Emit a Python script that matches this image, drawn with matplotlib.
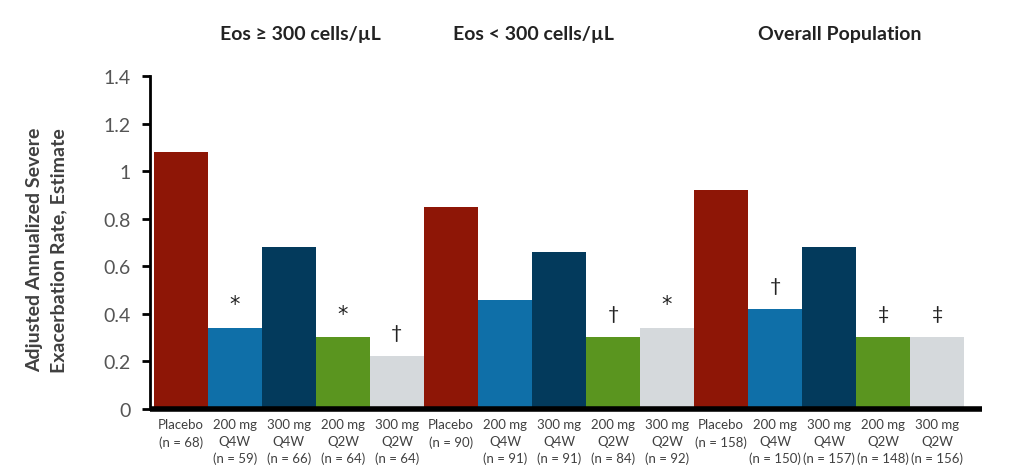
import numpy as np
import matplotlib
matplotlib.use('Agg')
import matplotlib.pyplot as plt
import matplotlib.transforms as mtransforms

# === data ===
groups = ['Eos ≥ 300 cells/µL', 'Eos < 300 cells/µL', 'Overall Population']
treatments = ['Placebo', '200 mg\nQ4W', '300 mg\nQ4W', '200 mg\nQ2W', '300 mg\nQ2W']
n_eos_high = [68, 59, 66, 64, 64]
n_eos_low = [90, 91, 91, 84, 92]
n_overall = [158, 150, 157, 148, 156]
rate_eos_high = [1.08, 0.34, 0.68, 0.30, 0.22]
rate_eos_low = [0.85, 0.46, 0.66, 0.30, 0.34]
rate_overall = [0.92, 0.42, 0.68, 0.30, 0.30]
sig_eos_high = ['', '*', '', '*', '†']
sig_eos_low = ['', '', '', '†', '*']
sig_overall = ['', '†', '', '‡', '‡']

colors = ['#8e1606', '#0f6fa8', '#033a5c', '#5a951f', '#d5d9dc']

plt.rcParams['font.family'] = ['Lato', 'DejaVu Sans']

fig = plt.figure(figsize=(10.24, 4.77), dpi=100)
ax = fig.add_axes([0.1465, 0.141, 0.8125, 0.697])

rates = [rate_eos_high, rate_eos_low, rate_overall]
ns = [n_eos_high, n_eos_low, n_overall]
sigs = [sig_eos_high, sig_eos_low, sig_overall]

x = 0
xticks, xlabels = [], []
for g in range(3):
    for t in range(5):
        ax.bar(x, rates[g][t], width=1.0, color=colors[t], linewidth=0)
        s = sigs[g][t]
        if s == '*':
            ax.text(x, rates[g][t] + 0.1, s, ha='center', va='center',
                    fontsize=15, color='#222222', family='DejaVu Sans')
        elif s:
            ax.text(x, rates[g][t] + 0.1, s, ha='center', va='center',
                    fontsize=14, color='#222222')
        if t == 0:
            lab = 'Placebo\n(n = %d)' % ns[g][t]
        else:
            lab = '%s\n(n = %d)' % (treatments[t], ns[g][t])
        xticks.append(x)
        xlabels.append(lab)
        x += 1

ax.set_xlim(-0.57, 14.83)
ax.set_ylim(0, 1.4)
ax.set_yticks(np.arange(0, 1.41, 0.2))
ax.set_yticklabels(['0', '0.2', '0.4', '0.6', '0.8', '1', '1.2', '1.4'])
ax.set_xticks(xticks)
ax.set_xticklabels(xlabels, fontsize=9.5, color='#404040', linespacing=1.45)
ax.tick_params(axis='x', length=0, pad=7)
ax.tick_params(axis='y', length=6, width=2, direction='out', labelsize=14,
               labelcolor='#555555', pad=8)

for s in ['top', 'right']:
    ax.spines[s].set_visible(False)
ax.spines['left'].set_linewidth(2)
ax.spines['bottom'].set_linewidth(4)
ax.spines['bottom'].set_capstyle('butt')

ax.set_ylabel('Adjusted Annualized Severe\nExacerbation Rate, Estimate',
              fontsize=14, fontweight='bold', color='#404040', linespacing=1.45)
ax.yaxis.set_label_coords(-0.1, 0.48)

trans = mtransforms.blended_transform_factory(ax.transData, fig.transFigure)
title_shift = [0.22, -0.48, 0.2]
for g in range(3):
    ax.text(g * 5 + 2 + title_shift[g], 0.927, groups[g], transform=trans,
            ha='center', va='center', fontsize=14, fontweight='bold', color='#222222')

fig.savefig('out.png', dpi=100, facecolor='white')
